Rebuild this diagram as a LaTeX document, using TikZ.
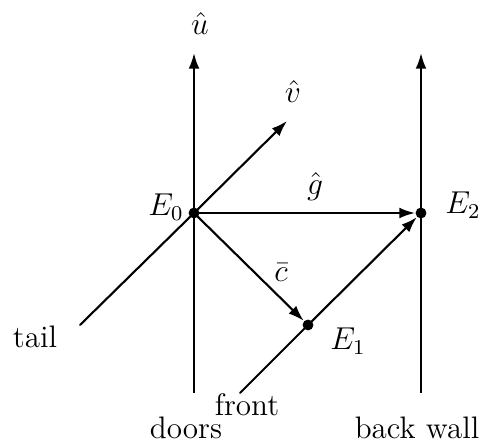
\documentclass[tikz,border=0pt]{standalone}
\usepackage{amsmath}
\usepackage{tikz}
\usetikzlibrary{arrows.meta,positioning}

\begin{document}
\begin{tikzpicture}[
    x=0.01333cm,y=-0.01333cm,
    event/.style={circle, fill=black, inner sep=0pt, minimum size=1.45mm},
    wline/.style={thick, line cap=round},
    arrow/.style={-{Latex[length=2.1mm,width=1.45mm]}, thick},
    lab/.style={font=\fontsize{11.8}{14}\selectfont}
  ]
    \useasboundingbox (0,0) rectangle (480,443);
    % events
    \node[event] (E0) at (194,213) {};
    \node[event] (E1) at (308,325) {};
    \node[event] (E2) at (421,213) {};
    \node[lab] (lE0) at (166,207) {$E_0$};
    \node[lab] (lE2) at (463,205) {$E_2$};
    \node[lab] (lE1) at (348,341) {$E_1$};
    % world lines and axes
    \coordinate (doorsbot) at (194,393);
    \coordinate (doorstop) at (194,53);
    \coordinate (wallbot) at (421,393);
    \coordinate (walltop) at (421,53);
    \coordinate (tailend) at (80,325);
    \coordinate (frontend) at (240,393);
    \coordinate (vtip) at (287,121);
    \draw[arrow] (doorsbot) -- (doorstop);
    \draw[arrow] (wallbot) -- (walltop);
    \draw[wline] (tailend) -- (E0.center);
    \draw[wline] (frontend) -- (E1.center);
    \draw[arrow] (E0.center) -- (vtip);
    \draw[arrow] (E0.center) -- (E2);
    \draw[arrow] (E0.center) -- (E1);
    \draw[arrow] (E1.center) -- (E2);
    % labels
    \node[lab] (uhat) at (200,24) {$\hat{u}$};
    \node[lab] (vhat) at (293,92) {$\hat{v}$};
    \node[lab] (ghat) at (315,187) {$\hat{g}$};
    \node[lab] (cbar) at (281,273) {$\bar{c}$};
    \node[lab] (tail) at (35,337) {tail};
    \node[lab] (front) at (247,405) {front};
    \node[lab] (doors) at (186,428) {doors};
    \node[lab] (backwall) at (417,428) {back wall};
  \end{tikzpicture}
\end{document}
